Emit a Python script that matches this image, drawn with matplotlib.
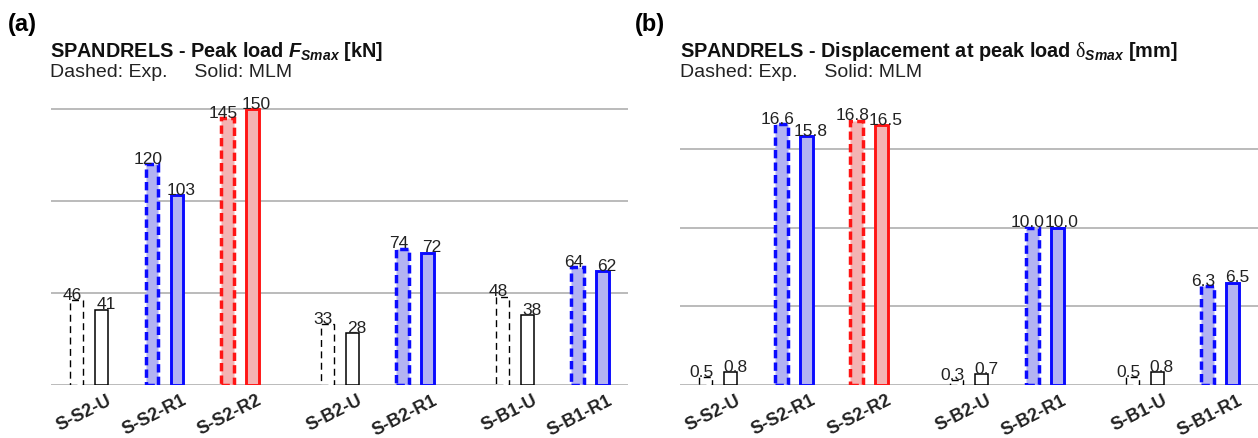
from matplotlib import pyplot as plt
from matplotlib.transforms import ScaledTranslation
import numpy as np

"""
Data
"""
specimens = ['S-S2-U', 'S-S2-R1', 'S-S2-R2', 'S-B2-U', 'S-B2-R1', 'S-B1-U', 'S-B1-R1']
retrofit = ['U', 'R1', 'R2', 'U', 'R1', 'U', 'R1']
family = [0, 0, 0, 1, 1, 2, 2]  # S2, B2, B1 -> extra gap between families

load_exp = [46, 120, 145, 33, 74, 48, 64]   # kN, dashed
load_mlm = [41, 103, 150, 28, 72, 38, 62]   # kN, solid
disp_exp = [0.5, 16.6, 16.8, 0.3, 10.0, 0.5, 6.3]   # mm, dashed
disp_mlm = [0.8, 15.8, 16.5, 0.7, 10.0, 0.8, 6.5]   # mm, solid

"""
Style
"""
plt.rcParams['font.family'] = ['Liberation Sans', 'DejaVu Sans']
plt.rcParams['mathtext.fontset'] = 'custom'
plt.rcParams['mathtext.rm'] = 'Liberation Serif'
plt.rcParams['mathtext.it'] = 'Liberation Sans:italic:bold'
plt.rcParams['mathtext.bf'] = 'Liberation Sans:bold'

edge = {'U': 'black', 'R1': '#0a0aff', 'R2': '#ff1414'}
fill = {'U': 'white', 'R1': '#b3b3f2', 'R2': '#f4b3b3'}
grid_col = '#a8a8a8'

x = np.arange(len(specimens)) + 0.33 * np.array(family)
off = 0.166
bw = 0.17

fig = plt.figure(figsize=(12.58, 4.39), dpi=100)
ax_a = fig.add_axes([0.0405, 0.1207, 0.4587, 0.6497])
ax_b = fig.add_axes([0.5405, 0.1207, 0.4595, 0.6270])


def draw_panel(ax, exp, mlm, fmt, ylim, yticks):
    for i in range(len(specimens)):
        k = retrofit[i]
        thick = k != 'U'
        # dashed = experimental, solid = MLM
        ax.bar(x[i] - off, exp[i], width=bw, facecolor=fill[k], edgecolor=edge[k],
               linewidth=2.5 if thick else 1.0,
               linestyle=(0, (2.4, 1.2)) if thick else (0, (5.0, 3.2)), zorder=3)
        ax.bar(x[i] + off, mlm[i], width=bw, facecolor=fill[k], edgecolor=edge[k],
               linewidth=2.1 if thick else 1.1, zorder=3)
        ax.annotate(fmt.format(exp[i]), (x[i] - off, exp[i]), xytext=(-3, 1),
                    textcoords='offset points', ha='center', va='baseline',
                    fontsize=12.5, color='#222222', zorder=4)
        ax.annotate(fmt.format(mlm[i]), (x[i] + off, mlm[i]), xytext=(3, 1),
                    textcoords='offset points', ha='center', va='baseline',
                    fontsize=12.5, color='#222222', zorder=4)
    ax.set_xlim(x[0] - 0.51, x[-1] + 0.5)
    ax.set_ylim(*ylim)
    ax.set_yticks(yticks)
    ax.yaxis.grid(True, color=grid_col, linewidth=1.1, zorder=0)
    ax.set_axisbelow(True)
    ax.tick_params(axis='y', length=0, labelleft=False)
    ax.tick_params(axis='x', length=0, pad=3)
    for s in ax.spines.values():
        s.set_visible(False)
    ax.set_xticks(x)
    ax.set_xticklabels(specimens, rotation=27, ha='right', rotation_mode='anchor',
                       fontsize=13, fontweight='bold', color='#222222')
    shift = ScaledTranslation(0.17, -0.02, fig.dpi_scale_trans)
    for lab in ax.get_xticklabels():
        lab.set_transform(lab.get_transform() + shift)


draw_panel(ax_a, load_exp, load_mlm, '{:.0f}', (0, 155), [0, 50, 100, 150])
draw_panel(ax_b, disp_exp, disp_mlm, '{:.1f}', (0, 17.5), [0, 5, 10, 15])

# panel letters and titles
fig.text(0.006, 0.93, '(a)', fontsize=17, fontweight='bold', va='baseline')
fig.text(0.505, 0.93, '(b)', fontsize=17, fontweight='bold', va='baseline')

fig.text(0.040, 0.870, r'SPANDRELS - Peak load $F_{Smax}$ [kN]', fontsize=14.3,
         fontweight='bold', va='baseline', color='#111111')
fig.text(0.040, 0.8246, 'Dashed: Exp.     Solid: MLM', fontsize=14, va='baseline',
         color='#222222')

fig.text(0.5405, 0.870, r'SPANDRELS - Displacement at peak load $\mathrm{\delta}_{Smax}$ [mm]',
         fontsize=14.3, fontweight='bold', va='baseline', color='#111111')
fig.text(0.5405, 0.8246, 'Dashed: Exp.     Solid: MLM', fontsize=14, va='baseline',
         color='#222222')

fig.savefig('out.png', dpi=100)
